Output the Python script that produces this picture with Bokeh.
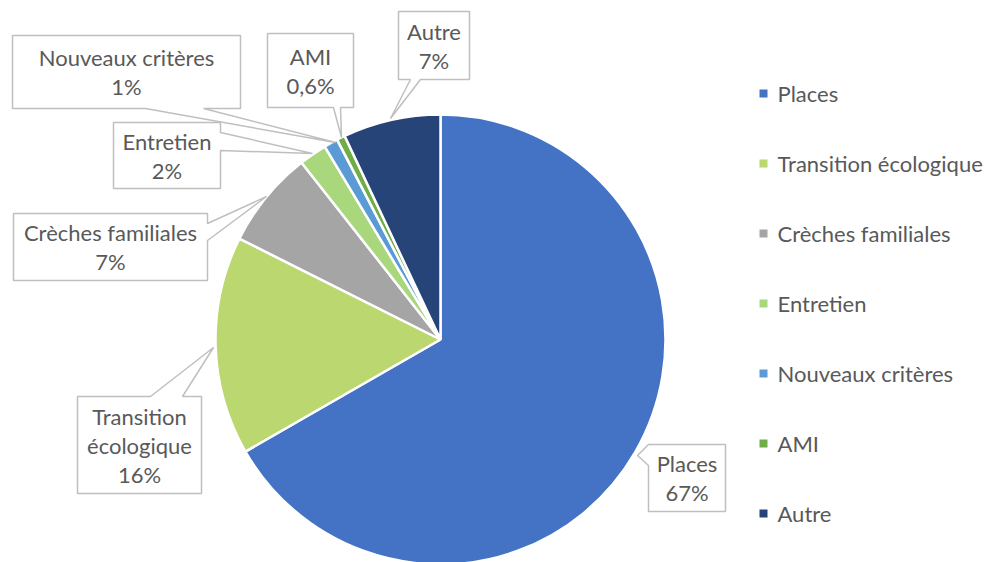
import numpy as np
from bokeh.plotting import figure
from bokeh.models import Range1d
from bokeh.core.properties import value
from bokeh.embed import file_html
from bokeh.resources import INLINE

# ---- data ----
categories = ["Places", "Transition écologique", "Crèches familiales", "Entretien",
              "Nouveaux critères", "AMI", "Autre"]
shares = [66.7, 15.7, 7.0, 2.0, 1.0, 0.6, 7.0]
label_pct = ["67%", "16%", "7%", "2%", "1%", "0,6%", "7%"]
label_names = [["Places"], ["Transition", "écologique"], ["Crèches familiales"], ["Entretien"],
               ["Nouveaux critères"], ["AMI"], ["Autre"]]
colors = ["#4472C4", "#BAD86F", "#A5A5A5", "#A9D77B", "#5B9BD5", "#70AD47", "#264478"]

# ---- layout (screen pixel coordinates) ----
W, H = 989, 562
FONT = "Lato"
FS = "22px"
TXT = "#595959"
def up(y):
    return H - y

cx, cy, R = 440, 339, 225

# label boxes: (left, top, right, bottom), edge, base (a, b), tip (x, y)
boxes = [
    ((648, 444, 725, 511), "left", (444, 465), (637, 455)),
    ((77, 396, 201, 493), "top", (150, 182), (213, 347)),
    ((13, 213, 207, 280), "right", (223, 240), (266, 196)),
    ((113, 122, 220, 188), "right", (132, 150), (312, 153)),
    ((12, 35, 240, 108), "bottom", (145, 203), (335, 142)),
    ((267, 33, 353, 107), "bottom", (333, 340), (341, 137)),
    ((398, 11, 469, 79), "bottom", (410, 420), (390, 118)),
]
LINE_GAP = 29
legend_x, legend_y0, legend_dy = 763, 93, 70

p = figure(width=W, height=H, output_backend="svg", toolbar_location=None,
           x_range=Range1d(0, W), y_range=Range1d(0, H),
           min_border=0)
p.axis.visible = False
p.grid.visible = False
p.outline_line_color = None
p.background_fill_color = "white"
p.border_fill_color = "white"

# ---- pie ----
fr = np.array(shares) / 100.0
cum = np.concatenate([[0], np.cumsum(fr)])
start = np.pi / 2 - 2 * np.pi * cum[:-1]
end = np.pi / 2 - 2 * np.pi * cum[1:]
p.wedge(x=cx, y=up(cy), radius=R, start_angle=start, end_angle=end,
        direction="clock", fill_color=colors, line_color="white", line_width=2.5)

# ---- callout boxes ----
xs, ys = [], []
for (l, t, r, b), edge, (a1, a2), (tx, ty) in boxes:
    if edge == "left":
        pts = [(l, t), (r, t), (r, b), (l, b), (l, a2), (tx, ty), (l, a1)]
    elif edge == "right":
        pts = [(l, t), (r, t), (r, a1), (tx, ty), (r, a2), (r, b), (l, b)]
    elif edge == "top":
        pts = [(l, t), (a1, t), (tx, ty), (a2, t), (r, t), (r, b), (l, b)]
    else:
        pts = [(l, t), (r, t), (r, b), (a2, b), (tx, ty), (a1, b), (l, b)]
    xs.append([q[0] for q in pts])
    ys.append([up(q[1]) for q in pts])
p.patches(xs=xs, ys=ys, fill_color="white", line_color="#BFBFBF", line_width=1.5)

tx_, ty_, tt_ = [], [], []
for i, ((l, t, r, b), _, _, _) in enumerate(boxes):
    lines = label_names[i] + [label_pct[i]]
    mx = (l + r) / 2
    my = (t + b) / 2
    n = len(lines)
    for k, s in enumerate(lines):
        tx_.append(mx)
        ty_.append(up(my + (k - (n - 1) / 2) * LINE_GAP))
        tt_.append(s)
p.text(x=tx_, y=ty_, text=tt_, text_font=value(FONT), text_font_size=FS,
       text_color=TXT, text_align="center", text_baseline="middle")

# ---- legend ----
ly = [up(legend_y0 + i * legend_dy) for i in range(len(categories))]
p.rect(x=[legend_x] * len(categories), y=ly, width=8, height=8,
       fill_color=colors, line_color=None)
p.text(x=[legend_x + 14] * len(categories), y=ly, text=categories,
       text_font=value(FONT), text_font_size=FS, text_color=TXT,
       text_align="left", text_baseline="middle")

open("out.html", "w").write(file_html(p, INLINE))
